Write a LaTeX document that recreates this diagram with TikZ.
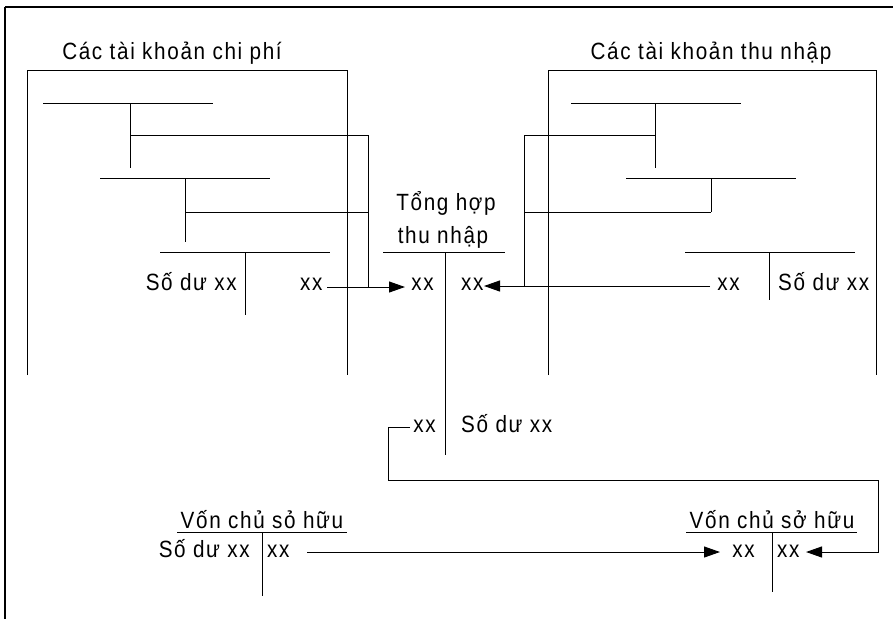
\documentclass[tikz,border=0pt]{standalone}
\usepackage{fontspec}
\setmainfont{Liberation Sans}[LetterSpace=7,FakeStretch=0.88]
\usetikzlibrary{arrows.meta}
\tikzset{
  lbl/.style={inner sep=0pt, font=\fontsize{23.5pt}{27pt}\selectfont},
  ln/.style={line width=1pt},
  arr/.style={ln, -{Triangle[length=16pt,width=11pt]}},
  frame/.style={line width=2.5pt}
}
\begin{document}
\begin{tikzpicture}[x=1pt,y=-1pt]
\useasboundingbox (0,0) rectangle (893,619);
\fill[white] (0,0) rectangle (893,619);
% frame
\coordinate (f1) at (5,619); \coordinate (f2) at (5,7); \coordinate (f3) at (893,7);
\draw[frame] (f3) -- (f2);
\draw[line width=1.5pt] (f2) -- (f1);

% titles
\node[lbl, anchor=base] (tL) at (172,59) {Các tài khoản chi phí};
\node[lbl, anchor=base] (tR) at (711,59) {Các tài khoản thu nhập};

% left bracket
\coordinate (bl1) at (27,375); \coordinate (bl2) at (27,70);
\coordinate (bl3) at (347,70); \coordinate (bl4) at (347,375);
\draw[ln] (bl1) -- (bl2) -- (bl3) -- (bl4);

% L1
\coordinate (l1a) at (43,103); \coordinate (l1b) at (213,103);
\coordinate (l1t) at (130,103); \coordinate (l1d) at (130,168);
\draw[ln] (l1a) -- (l1b); \draw[ln] (l1t) -- (l1d);
\coordinate (l1c) at (130,135); \coordinate (lk1) at (368,135); \coordinate (lk3) at (368,287);
\draw[ln] (l1c) -- (lk1) -- (lk3);
% L2
\coordinate (l2a) at (100,178); \coordinate (l2b) at (270,178);
\coordinate (l2t) at (185,178); \coordinate (l2d) at (185,242);
\draw[ln] (l2a) -- (l2b); \draw[ln] (l2t) -- (l2d);
\coordinate (l2c) at (185,212); \coordinate (lk2) at (368,212);
\draw[ln] (l2c) -- (lk2);
% L3
\coordinate (l3a) at (160,252); \coordinate (l3b) at (330,252);
\coordinate (l3t) at (245,252); \coordinate (l3d) at (245,315);
\draw[ln] (l3a) -- (l3b); \draw[ln] (l3t) -- (l3d);
\node[lbl, anchor=base east] (l3L) at (237,290) {Số dư xx};
\node[lbl, anchor=base west] (l3R) at (300,290) {xx};

% Tong hop thu nhap
\node[lbl, anchor=base] (th1) at (446,210) {Tổng hợp};
\node[lbl, anchor=base] (th2) at (443,243) {thu nhập};
\coordinate (tha) at (383,252); \coordinate (thb) at (505,252);
\coordinate (tht) at (445,252); \coordinate (thd) at (445,455);
\draw[ln] (tha) -- (thb); \draw[ln] (tht) -- (thd);
\node[lbl, anchor=base east] (thL) at (434,290) {xx};
\node[lbl, anchor=base west] (thR) at (461,290) {xx};
\node[lbl, anchor=base east] (thBL) at (436,432) {xx};
\node[lbl, anchor=base west] (thBR) at (461,432) {Số dư xx};

% arrows into Tong hop
\coordinate (aL0) at (327,287); \coordinate (aL1) at (405,287);
\draw[arr] (aL0) -- (aL1);
\coordinate (aR0) at (710,286); \coordinate (aR1) at (484,286);
\draw[arr] (aR0) -- (aR1);

% right bracket
\coordinate (br1) at (548,375); \coordinate (br2) at (548,70);
\coordinate (br3) at (876,70); \coordinate (br4) at (876,375);
\draw[ln] (br1) -- (br2) -- (br3) -- (br4);
% R1
\coordinate (r1a) at (571,103); \coordinate (r1b) at (741,103);
\coordinate (r1t) at (655,103); \coordinate (r1d) at (655,168);
\draw[ln] (r1a) -- (r1b); \draw[ln] (r1t) -- (r1d);
\coordinate (r1c) at (655,135); \coordinate (rk1) at (524,135); \coordinate (rk3) at (524,286);
\draw[ln] (r1c) -- (rk1) -- (rk3);
% R2
\coordinate (r2a) at (626,178); \coordinate (r2b) at (796,178);
\coordinate (r2t) at (711,178); \coordinate (r2d) at (711,212);
\draw[ln] (r2a) -- (r2b); \draw[ln] (r2t) -- (r2d);
\coordinate (rk2) at (524,212);
\draw[ln] (r2d) -- (rk2);
% R3
\coordinate (r3a) at (685,252); \coordinate (r3b) at (855,252);
\coordinate (r3t) at (769,252); \coordinate (r3d) at (769,300);
\draw[ln] (r3a) -- (r3b); \draw[ln] (r3t) -- (r3d);
\node[lbl, anchor=base east] (r3L) at (740,290) {xx};
\node[lbl, anchor=base west] (r3R) at (778,290) {Số dư xx};

% Von chu so huu (left)
\node[lbl, anchor=base] (vLt) at (262,528) {Vốn chủ sỏ hữu};
\coordinate (vla) at (177,532); \coordinate (vlb) at (347,532);
\coordinate (vlt) at (262,532); \coordinate (vld) at (262,596);
\draw[ln] (vla) -- (vlb); \draw[ln] (vlt) -- (vld);
\node[lbl, anchor=base east] (vlL) at (250,557) {Số dư xx};
\node[lbl, anchor=base west] (vlR) at (267,557) {xx};

% Von chu so huu (right)
\node[lbl, anchor=base] (vRt) at (772,528) {Vốn chủ sở hữu};
\coordinate (vra) at (686,532); \coordinate (vrb) at (857,532);
\coordinate (vrt) at (772,532); \coordinate (vrd) at (772,592);
\draw[ln] (vra) -- (vrb); \draw[ln] (vrt) -- (vrd);
\node[lbl, anchor=base east] (vrL) at (755,557) {xx};
\node[lbl, anchor=base west] (vrR) at (777,557) {xx};

% transfer arrows
\coordinate (aB0) at (307,552); \coordinate (aB1) at (720,552);
\draw[arr] (aB0) -- (aB1);
\coordinate (c1) at (410,427); \coordinate (c2) at (388,427);
\coordinate (c3) at (388,480); \coordinate (c4) at (878,480);
\coordinate (c5) at (878,552); \coordinate (c6) at (806,552);
\draw[arr] (c1) -- (c2) -- (c3) -- (c4) -- (c5) -- (c6);
\end{tikzpicture}
\end{document}
